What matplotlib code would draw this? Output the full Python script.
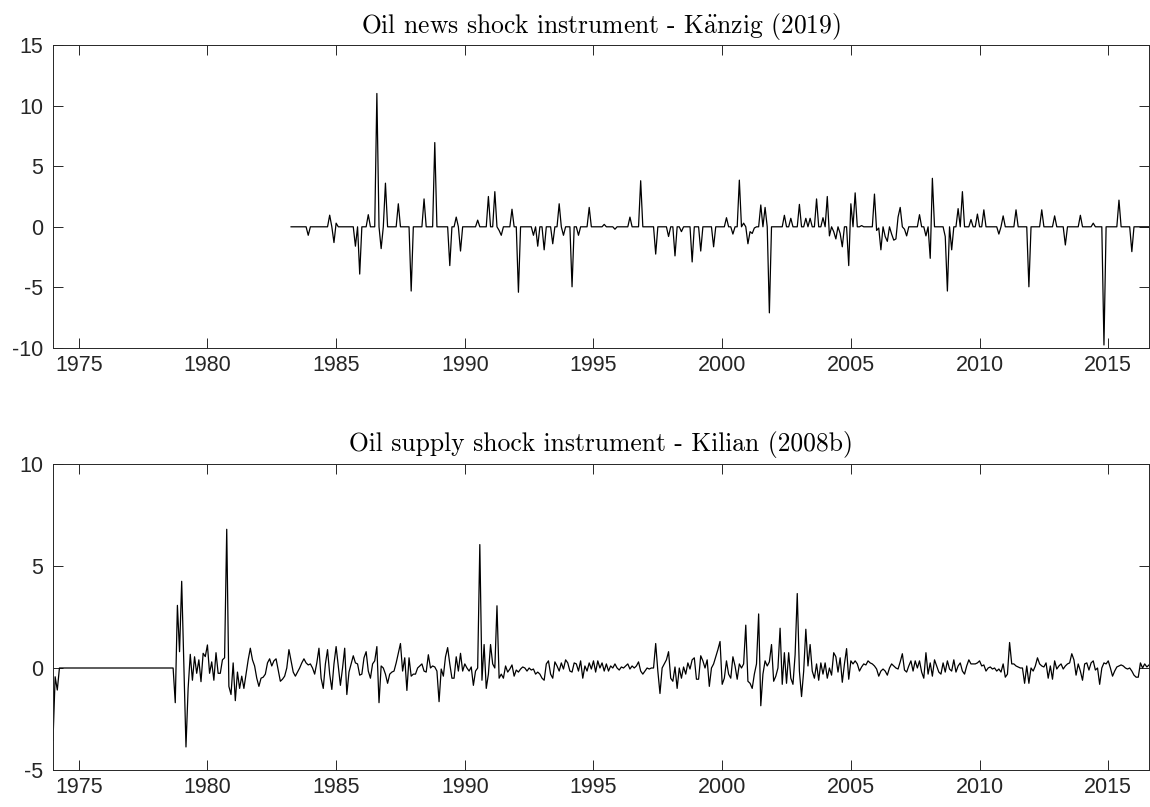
import numpy as np
import matplotlib
matplotlib.use("Agg")
import matplotlib.pyplot as plt

plt.rcParams["font.family"] = ["Liberation Sans", "DejaVu Sans"]
plt.rcParams["mathtext.fontset"] = "cm"
plt.rcParams["axes.unicode_minus"] = False

# Känzig (2019) oil news shock, monthly 1983:04 - 2016:08.
# Only the months with a non-zero shock are listed (months counted from 1983:04).
news_start = 1983.25
news_n = 401
news_month = [8, 18, 20, 21, 30, 32, 36, 40, 42, 44, 50, 56, 62, 67, 74, 77, 79, 87,
              92, 95, 97, 98, 103, 106, 113, 115, 118, 122, 125, 127, 131, 134, 139,
              146, 151, 158, 163, 170, 176, 179, 182, 187, 191, 197, 203, 206, 209,
              211, 213, 214, 215, 216, 219, 221, 223, 230, 233, 237, 240, 242, 245,
              248, 250, 251, 253, 254, 256, 257, 260, 261, 263, 266, 272, 273, 274,
              275, 277, 278, 280, 281, 282, 283, 284, 286, 287, 293, 296, 298, 299,
              305, 306, 308, 311, 313, 317, 320, 323, 330, 332, 338, 344, 350, 356,
              361, 368, 374, 379, 386, 392]
news_value = [-0.7, 0.96, -1.3, 0.3, -1.6, -3.9, 1.0, 11.0, -1.8, 3.6, 1.9, -5.3, 2.3,
              6.95, -3.2, 0.8, -2.0, 0.55, 2.5, 2.9, -0.3, -0.7, 1.45, -5.4, -0.7, -1.6,
              -1.9, -1.4, 1.9, -0.7, -4.95, -0.7, 1.6, 0.2, -0.2, 0.8, 3.8, -2.25, -0.8,
              -2.4, -0.4, -2.9, -2.0, -1.65, 0.75, -0.6, 3.85, 0.3, -1.4, -0.4, -0.55,
              -0.1, 1.8, 1.6, -7.1, 0.95, 0.7, 1.85, 0.7, 0.7, 2.3, 0.75, 2.5, -0.75,
              -0.4, -1.0, -0.55, -1.65, -3.2, 1.9, 2.8, 0.1, 2.7, -0.3, -0.1, -1.9, -0.8,
              -1.2, -0.6, -1.1, -1.0, 0.8, 1.6, -0.2, -0.75, 1.0, -0.75, -2.6, 4.0, -0.8,
              -5.3, -1.9, 1.5, 2.9, 0.6, 1.05, 1.4, -0.6, 0.9, 1.4, -4.95, 1.4, 0.9,
              -1.5, 0.95, 0.3, -9.75, 2.2, -2.05]

# Kilian (2008b) oil supply shock, monthly 1974:01 - 2016:08, one row per year
supply_start = 1974.0
supply_value = [
    -3.55, -0.43, -1.08, 0, 0, 0, 0, 0, 0, 0, 0, 0,                      # 1974
    0, 0, 0, 0, 0, 0, 0, 0, 0, 0, 0, 0,                                  # 1975
    0, 0, 0, 0, 0, 0, 0, 0, 0, 0, 0, 0,                                  # 1976
    0, 0, 0, 0, 0, 0, 0, 0, 0, 0, 0, 0,                                  # 1977
    0, 0, 0, 0, 0, 0, 0, 0, 0, -1.7, 3.07, 0.8,                          # 1978
    4.25, 0.2, -3.87, -1.0, 0.67, -0.6, 0.55, -0.26, 0.4, -0.67, 0.72, 0.56,
    1.13, -0.26, 0.3, -0.6, 0.75, -0.26, -0.26, 0.4, 0.5, 6.8, -0.9, -1.3,
    0.25, -1.6, -0.2, -1.0, -0.4, -1.0, -0.3, 0.4, 0.97, 0.4, 0.1, -0.5,
    -0.9, -0.5, -0.45, -0.3, 0.25, 0.45, 0.1, 0.35, 0.45, -0.1, -0.65, -0.55,
    -0.4, 0, 0.9, 0.35, -0.2, -0.4, -0.2, 0, 0.25, 0.45, 0.25, 0.15,
    0.2, 0, -0.3, 0.25, 0.97, -0.5, -1.0, 0.2, 0.9, -0.3, -1.05, 0.2,
    1.05, 0.1, -0.85, 0, 0.97, -1.3, -0.2, 0.2, 0.6, 0.25, 0.2, -0.35,
    -0.3, 0.5, 0.8, -0.15, -0.5, 0.2, 0.35, 1.05, -1.7, 0.1, 0, -0.3,
    -0.75, -0.3, -0.2, -0.15, 0.25, 0.72, 1.2, -0.15, 0.5, -1.1, 0.5, -0.4,
    -0.3, -0.3, 0, 0.1, 0.2, -0.15, -0.2, 0.65, 0, 0.1, 0.05, -0.15,
    -1.65, -0.05, -0.4, 0.55, 1.0, 0.2, -0.5, -0.5, 0.55, -0.15, 0.72, -0.15,
    0.2, 0, -0.15, 0.05, -0.85, -0.15, 0, 6.05, -0.6, 1.15, -1.0, -0.3,
    1.15, 0.2, 0, 3.05, -0.5, -0.3, -0.5, 0.1, -0.2, -0.05, 0.15, -0.4,
    -0.1, -0.2, -0.05, 0.05, 0, -0.15, 0, -0.1, -0.05, -0.3, -0.2, -0.3,
    -0.5, -0.6, 0.2, 0.35, -0.3, -0.5, 0.3, 0.1, -0.15, 0.25, -0.05, 0.4,
    0.25, -0.15, -0.2, 0.25, 0.2, -0.15, 0.35, -0.5, 0.1, -0.15, 0.25, -0.05,
    0.35, -0.2, 0.35, 0, 0.25, -0.15, 0.2, -0.15, 0.1, 0, 0.2, 0,
    -0.1, 0.05, 0, 0.1, 0.2, -0.05, 0.1, 0, 0.1, 0.3, -0.15, -0.3,
    -0.15, 0, -0.05, 0, 0, 1.2, -0.15, -1.25, 0, 0.2, 0.4, 0.8,
    -0.5, -0.65, 0.05, -1.0, 0, -0.5, 0.05, -0.3, 0.25, -0.05, 0.4, 0.5,
    -0.55, -0.55, 0.6, 0.35, 0, 0.4, -0.9, 0, 0.2, 0.55, 0.9, 1.3,
    -0.8, -0.5, 0.35, -0.3, -0.5, 0.55, 0.1, -0.55, 0.2, 0, 0.2, 2.1,
    -0.65, -0.75, -1.0, -0.3, 0.2, 2.65, -1.85, -0.3, 0.35, 0.1, 0.3, 1.15,
    -0.65, -0.4, 0, 1.95, -0.8, 0.75, -0.75, 0.75, -0.5, -0.8, 0.65, 3.65,
    -0.15, -1.4, -0.15, 1.9, 0.1, 1.15, -0.15, -0.5, 0.2, -0.6, 0.25, -0.3,
    0.25, -0.5, 0, -0.35, 0.75, 0.55, -0.2, 0.5, -0.7, 0.2, 0.95, -0.55,
    0.35, 0.2, 0.35, 0.2, -0.15, 0.05, 0.2, 0.15, 0.35, 0.25, 0.2, 0.1,
    -0.05, -0.4, -0.15, -0.05, -0.15, -0.35, 0, 0.2, 0.1, 0, -0.05, 0.3,
    0.7, -0.1, -0.2, 0.1, 0.35, -0.15, 0.35, 0, 0.35, -0.2, -0.5, 0.75,
    -0.3, 0.25, -0.4, 0.4, 0.1, -0.2, -0.3, 0.25, -0.2, 0.35, -0.05, -0.15,
    0.4, -0.2, 0.1, 0.25, -0.15, -0.3, 0.1, 0.4, 0.2, 0.2, 0.2, 0.25,
    0.35, 0.1, 0.15, -0.15, 0, 0.05, -0.05, 0, -0.15, -0.05, -0.2, 0.2,
    -0.45, -0.3, 1.25, 0.2, 0.2, 0.1, 0.05, 0, 0, -0.75, 0.1, -0.75,
    0, -0.15, 0.1, 0.5, 0.2, 0.1, 0.05, 0.25, -0.5, 0.1, -0.55, 0.35,
    -0.05, 0.1, 0.2, -0.05, 0.1, 0.2, 0.25, 0.7, 0.4, -0.35, 0.2, -0.15,
    -0.6, 0.2, 0.25, -0.1, 0.25, 0.35, -0.1, 0, -0.8, 0, 0.25, 0.2,
    0.35, 0, -0.4, -0.15, 0.05, 0.1, 0.15, 0.1, 0, -0.05, 0, -0.15,
    -0.35, -0.45, -0.45, 0.25, 0, 0.2, 0.05, 0.15,                       # 2016
]

x_ticks = [1975, 1980, 1985, 1990, 1995, 2000, 2005, 2010, 2015]
news_yticks = [-10, -5, 0, 5, 10, 15]
supply_yticks = [-5, 0, 5, 10]
titles = [r"Oil news shock instrument - K$\ddot{\mathrm{a}}$nzig (2019)",
          "Oil supply shock instrument - Kilian (2008b)"]

news = np.zeros(news_n)
news[news_month] = news_value
t_news = news_start + np.arange(news_n) / 12
supply = np.array(supply_value)
t_supply = supply_start + np.arange(len(supply)) / 12

axis_col = "#262626"

fig = plt.figure(figsize=(11.5, 8.07), dpi=100)
W, H = 1150, 807
ax1 = fig.add_axes([53 / W, 1 - 348 / H, 1096 / W, 303 / H])
ax2 = fig.add_axes([53 / W, 1 - 770 / H, 1096 / W, 306 / H])


def style(ax, yticks, title):
    ax.set_xlim(1974, news_start + (news_n - 1) / 12)
    ax.set_ylim(yticks[0], yticks[-1])
    ax.set_xticks(x_ticks)
    ax.set_xticklabels([str(v) for v in x_ticks])
    ax.set_yticks(yticks)
    ax.set_yticklabels([str(v) for v in yticks])
    ax.tick_params(direction="in", top=True, right=True, length=7.5, width=0.7,
                   colors=axis_col, labelsize=15.5)
    ax.tick_params(axis="y", pad=7)
    ax.tick_params(axis="x", pad=5)
    for s in ax.spines.values():
        s.set_color(axis_col)
        s.set_linewidth(0.7)
    ax.set_title(title, family="cmr10", fontsize=18.4, pad=9, color="black")


ax1.plot(t_news, news, color="black", lw=0.9)
style(ax1, news_yticks, titles[0])
ax2.plot(t_supply, supply, color="black", lw=0.9)
style(ax2, supply_yticks, titles[1])

fig.savefig("out.png", dpi=100)
